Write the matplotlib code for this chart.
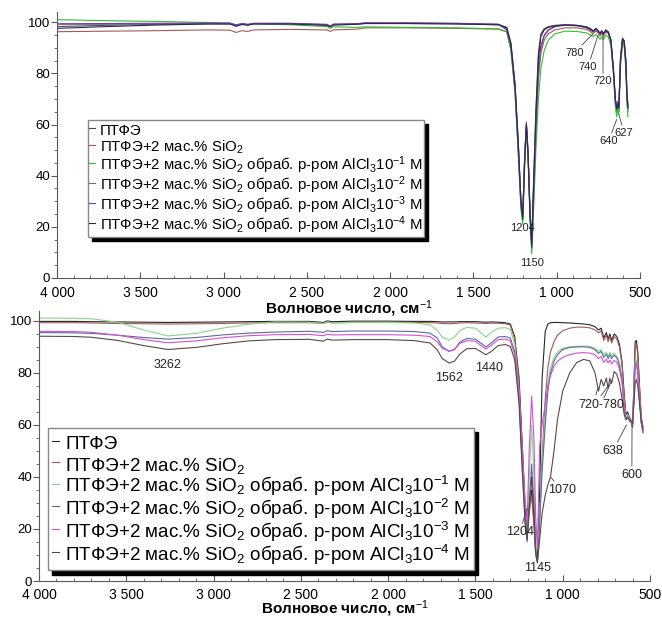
import matplotlib
matplotlib.use('Agg')
import matplotlib.pyplot as plt
from matplotlib.ticker import MultipleLocator

plt.rcParams['font.family'] = ['Liberation Sans', 'DejaVu Sans']
plt.rcParams['mathtext.fontset'] = 'custom'
plt.rcParams['mathtext.rm'] = 'Liberation Sans'
plt.rcParams['mathtext.it'] = 'Liberation Sans:italic'
plt.rcParams['mathtext.bf'] = 'Liberation Sans:bold'
plt.rcParams['mathtext.default'] = 'rm'

# ---- upper panel: transmittance, % ----
top_wn = [4000, 3700, 3400, 3100, 2960, 2925, 2890, 2855, 2820, 2600,
          2380, 2360, 2340, 2200, 2150, 1900, 1600, 1350, 1300, 1275,
          1250, 1230, 1215, 1204, 1192, 1182, 1172, 1160, 1150, 1138,
          1125, 1110, 1095, 1075, 1050, 1010, 950, 880, 820, 795,
          780, 765, 752, 740, 730, 720, 705, 690, 675, 660,
          648, 640, 633, 627, 617, 605, 595, 585, 578, 572]

top_ptfe = [98.3, 98.8, 99.2, 99.4, 99.4, 98.6, 99.3, 99.0, 99.5, 99.5,
            99.0, 98.5, 99.1, 99.4, 99.6, 99.6, 99.5, 99.2, 98.0, 92.0,
            76, 52, 31, 25, 48, 60, 48, 26, 14, 40,
            66, 88, 95.5, 97.5, 98.3, 98.8, 99.0, 98.8, 98.2, 97.4,
            96.6, 97.6, 96.8, 95.6, 96.6, 95.5, 97.0, 96.2, 93.2, 82,
            70, 66, 68.5, 67, 86, 93.8, 92.8, 85, 71, 67]
top_sio2 = [96.3, 96.5, 96.7, 97.0, 96.9, 96.0, 96.7, 96.4, 97.0, 97.2,
            97.0, 96.4, 97.0, 97.3, 97.8, 97.8, 97.6, 97.3, 96.2, 89.5,
            73, 49, 28, 23, 46, 59, 48, 24, 11.5, 32,
            56, 78, 88, 93, 95.5, 97.0, 97.8, 97.8, 97.2, 96.2,
            95.6, 96.6, 95.8, 94.6, 95.6, 94.5, 96.2, 95.4, 92.4, 81,
            68.5, 65, 67, 65, 84, 92.5, 91.5, 83, 69, 65]
top_al1 = [101.0, 100.6, 100.3, 99.9, 99.6, 99.0, 99.4, 99.1, 99.4, 99.0,
           98.3, 97.6, 98.2, 98.0, 98.2, 98.0, 97.8, 97.4, 96.3, 89,
           72, 48, 27, 21, 44, 58, 47, 22, 9.5, 28,
           50, 70, 82, 89, 93, 95.5, 96.5, 96.4, 95.8, 95.0,
           94.4, 95.2, 94.4, 93.3, 94.3, 93.2, 94.9, 94.2, 91, 80,
           67, 63, 66, 64, 83, 91.5, 90.5, 82, 68, 63]
top_al2 = [99.2, 99.2, 99.3, 99.5, 99.5, 98.8, 99.3, 99.0, 99.4, 99.4,
           98.9, 98.3, 99.0, 99.2, 99.5, 99.5, 99.4, 99.0, 97.6, 90.5,
           73, 48, 29, 24, 47, 60, 49, 24, 13, 34,
           58, 80, 90, 94.5, 96.8, 98.2, 98.8, 98.6, 97.8, 96.8,
           96.2, 97.2, 96.4, 95.2, 96.2, 95.1, 96.5, 95.8, 92.8, 81,
           69, 66, 68, 66, 85, 93, 92, 84, 70, 66]
top_al3 = [99.4, 99.5, 99.6, 99.7, 99.7, 98.9, 99.5, 99.2, 99.6, 99.6,
           99.2, 98.5, 99.3, 99.4, 99.8, 99.8, 99.6, 99.2, 97.0, 91,
           75, 52, 30, 24, 48, 61, 50, 25, 14, 35,
           60, 82, 91, 95, 97, 98.5, 99.0, 98.8, 98.0, 97.0,
           96.4, 97.4, 96.6, 95.4, 96.4, 95.3, 96.8, 96.0, 93, 82,
           70, 67, 69, 67, 86, 93.5, 92.5, 85, 72, 68]
top_al4 = [97.6, 98.3, 98.9, 99.3, 99.3, 98.4, 99.1, 98.8, 99.3, 99.3,
           98.8, 98.2, 98.9, 99.2, 99.5, 99.5, 99.3, 99.0, 97.8, 91.5,
           75, 51, 30, 23, 47, 60, 48, 25, 12, 38,
           64, 86, 94.5, 97, 98, 98.6, 98.9, 98.7, 98.1, 97.2,
           96.5, 97.5, 96.7, 95.6, 96.6, 95.6, 96.9, 96.1, 93.1, 82,
           70, 66, 68, 66.5, 85.5, 93.6, 92.6, 84.5, 70.5, 66.5]

# ---- lower panel ----
bot_wn = [4000, 3800, 3700, 3550, 3400, 3262, 3100, 2950, 2800, 2650,
          2450, 2370, 2350, 2320, 2200, 2000, 1850, 1760, 1720, 1690,
          1650, 1620, 1590, 1550, 1500, 1470, 1440, 1410, 1370, 1330,
          1300, 1275, 1250, 1230, 1215, 1204, 1192, 1178, 1165, 1155,
          1145, 1132, 1118, 1100, 1085, 1070, 1050, 1030, 1000, 960,
          920, 880, 845, 815, 795, 780, 765, 750, 740, 730,
          720, 705, 690, 675, 660, 648, 638, 628, 618, 608,
          600, 592, 585, 578, 570, 560, 550, 540]

bot_ptfe = [99.8, 99.8, 99.7, 99.6, 99.5, 99.4, 99.5, 99.6, 99.7, 99.8,
            99.8, 99.4, 100.0, 99.7, 99.9, 99.9, 99.8, 99.8, 99.7, 99.6,
            99.6, 99.6, 99.7, 99.7, 99.7, 99.6, 99.5, 99.6, 99.5, 99.3,
            98.8, 94, 78, 50, 28, 18, 28, 35, 24, 12,
            8, 35, 78, 96, 98.8, 99.3, 99.4, 99.4, 99.3, 99.2,
            99.0, 98.8, 98.5, 97.8, 96.5, 97.2, 93.5, 95.5, 93, 95,
            92.5, 95, 94, 91, 84, 72, 64, 65, 63, 62,
            60, 76, 92, 92.5, 88, 75, 63, 59]
bot_sio2 = [99.3, 99.3, 99.2, 99.0, 98.9, 98.8, 98.9, 99.0, 99.2, 99.3,
            99.3, 99.0, 99.5, 99.2, 99.4, 99.4, 99.4, 99.3, 99.2, 99.0,
            98.9, 99.0, 99.2, 99.3, 99.2, 99.1, 99.0, 99.1, 99.1, 98.9,
            98.3, 93, 76, 47, 25, 16, 26, 33, 21, 10,
            7, 24, 48, 70, 82, 88, 92, 94.5, 96.2, 97.2,
            97.6, 97.6, 97.3, 96.6, 95.4, 96.2, 92.5, 94.5, 92, 94,
            91.5, 94, 93, 90, 83, 71, 63, 64, 62, 61,
            59, 74, 90, 91, 87, 74, 62, 58]
bot_al1 = [101.1, 101.0, 100.8, 99.5, 96.5, 94.2, 95.2, 97.2, 98.7, 99.6,
           99.5, 99.0, 99.6, 99.3, 99.4, 99.4, 99.2, 98.5, 96.5, 93.8,
           92.6, 93.8, 96.2, 97.5, 97.2, 95.5, 93.8, 95.5, 97.2, 97.4,
           96.8, 91, 72, 44, 24, 16, 40, 60, 40, 15,
           9, 25, 45, 64, 76, 82, 86, 88, 89.5, 90,
           90.2, 90.3, 90.2, 89.5, 88.3, 89, 87, 88, 86.5, 88,
           86.5, 87.5, 86.5, 84, 78, 68, 63, 64, 62.5, 62,
           60.5, 72, 84, 85, 81, 71, 62, 58]
bot_al2 = [95.5, 95.4, 95.2, 94.5, 93.6, 93.0, 93.6, 94.6, 95.3, 95.7,
           96.0, 95.6, 96.2, 95.9, 96.1, 96.1, 95.9, 95.3, 93.5, 90.0,
           88.3, 89.0, 91.8, 93.2, 93.0, 91.5, 90.0, 91.5, 93.8, 94.0,
           93.4, 88, 70, 42, 22, 15, 30, 45, 30, 12,
           8, 22, 42, 60, 73, 80, 84.5, 87, 89, 89.8,
           90.0, 90.0, 89.8, 89, 87.5, 88.3, 86, 87.2, 85.5, 87,
           85.5, 86.8, 85.8, 83, 77, 67, 62, 63, 61.5, 61,
           59.5, 70, 83, 84, 80, 70, 61, 57]
bot_al3 = [96.0, 95.9, 95.6, 94.5, 92.8, 91.6, 92.3, 93.5, 94.3, 94.7,
           94.8, 94.3, 94.9, 94.6, 94.7, 94.7, 94.5, 94.0, 92.0, 89.5,
           88.3, 89.0, 91.3, 92.4, 92.2, 90.6, 89.2, 90.6, 92.8, 93.0,
           92.4, 87, 72, 50, 30, 22, 50, 71, 55, 25,
           12, 52, 60, 68, 75, 79, 82.5, 84.5, 86, 87,
           87.6, 87.8, 87.6, 87, 85.5, 86.3, 84, 85.3, 83.8, 85,
           83.5, 84.8, 84, 81.5, 76, 67, 62, 63, 61.5, 61,
           60, 70, 82, 83.5, 80, 70, 61, 57]
bot_al4 = [94.1, 94.0, 93.7, 92.5, 90.5, 89.0, 89.8, 91.2, 92.3, 92.8,
           92.9, 92.2, 93.0, 92.6, 92.8, 92.8, 92.4, 91.5, 89.0, 85.5,
           83.8, 84.5, 87.2, 89.3, 89.4, 88.2, 87.0, 88.2, 90.5, 90.9,
           90.2, 85, 68, 40, 22, 16, 28, 40, 26, 11,
           7, 16, 26, 33, 37, 40, 50, 62, 73, 80,
           84, 85.2, 84.6, 80, 73, 77.5, 75, 78, 74, 78,
           76, 80.5, 79.5, 76, 70, 64, 62, 63, 62, 61.5,
           60.5, 68, 76, 77.5, 75, 68, 61, 58]

labels = ['ПТФЭ',
          'ПТФЭ+2 мас.% SiO$_2$',
          'ПТФЭ+2 мас.% SiO$_2$ обраб. р-ром AlCl$_3$10$^{-1}$ M',
          'ПТФЭ+2 мас.% SiO$_2$ обраб. р-ром AlCl$_3$10$^{-2}$ M',
          'ПТФЭ+2 мас.% SiO$_2$ обраб. р-ром AlCl$_3$10$^{-3}$ M',
          'ПТФЭ+2 мас.% SiO$_2$ обраб. р-ром AlCl$_3$10$^{-4}$ M']

top_colors = ['#4a4a4a', '#a85858', '#2ec02e', '#6a6a8a', '#7a3aaa', '#2a2a50']
bot_colors = ['#262626', '#a05a5a', '#86d886', '#5a6aa0', '#d050d0', '#5a4848']

xticks = [4000, 3500, 3000, 2500, 2000, 1500, 1000, 500]
xtick_labels = ['4 000', '3 500', '3 000', '2 500', '2 000', '1 500', '1 000', '500']
yticks = [0, 20, 40, 60, 80, 100]

# band labels: text, text position, leader targets
top_notes = [('1204', 1204, 19.5, []),
             ('1150', 1150, 6, []),
             ('780', 895, 88, [(782, 95.5)]),
             ('740', 812, 82.5, [(752, 95)]),
             ('720', 722, 77, [(722, 95)]),
             ('640', 688, 53.6, [(640, 62)]),
             ('627', 595, 56.7, [(627, 64)])]
bot_notes = [('3262', 3262, 83, []),
             ('1562', 1650, 78, []),
             ('1440', 1420, 82, []),
             ('1070', 1005, 35, [(1070, 40)]),
             ('1204', 1246, 18.8, [(1204, 28)]),
             ('1145', 1143, 5, [(1145, 12)]),
             ('638', 713, 50, [(635, 60)]),
             ('600', 604, 40.8, [(603, 60)])]
band_group = ('720-780', 781, 67.7, [(810, 71.5), (781, 71.2), (764, 70.4)],
              [(800, 74), (740, 75), (720, 77)])

fig = plt.figure(figsize=(6.62, 6.19), dpi=100)
ax1 = fig.add_axes([57 / 662, 1 - 278 / 619, 583 / 662, 266 / 619])
ax2 = fig.add_axes([39 / 662, 1 - 581 / 619, 611 / 662, 270 / 619])
ax2.patch.set_visible(False)


def style_axes(ax, ymax, xpad, lpad):
    ax.set_xlim(4000, 500)
    ax.set_ylim(0, ymax)
    for s in ('top', 'right'):
        ax.spines[s].set_visible(False)
    for s in ('left', 'bottom'):
        ax.spines[s].set_color('#5a5a5a')
        ax.spines[s].set_linewidth(0.8)
    ax.set_xticks(xticks)
    ax.set_xticklabels(xtick_labels, fontsize=10)
    ax.xaxis.set_minor_locator(MultipleLocator(100))
    ax.set_yticks(yticks)
    ax.set_yticklabels([str(v) for v in yticks], fontsize=9.5)
    ax.yaxis.set_minor_locator(MultipleLocator(5))
    ax.tick_params(axis='x', which='major', direction='in', length=4,
                   pad=xpad, color='#5a5a5a')
    ax.tick_params(axis='x', which='minor', direction='in', length=2.5,
                   color='#5a5a5a')
    ax.tick_params(axis='y', which='major', direction='out', length=4, pad=1,
                   color='#5a5a5a')
    ax.tick_params(axis='y', which='minor', direction='out', length=2,
                   color='#5a5a5a')
    ax.set_xlabel('Волновое число, см$^{-1}$', fontsize=11,
                  fontweight='bold', labelpad=lpad)


def add_legend(ax, anchor, fs, spacing, pad):
    ax.legend(loc='upper left', bbox_to_anchor=anchor, borderaxespad=0,
              fontsize=fs, handlelength=0.4, handleheight=1.45,
              handletextpad=0.3, labelspacing=spacing, borderpad=pad,
              fancybox=False, edgecolor='#888888', framealpha=1,
              shadow={'ox': 3, 'oy': -3, 'color': 'black', 'alpha': 1})


top_series = [top_ptfe, top_sio2, top_al1, top_al2, top_al3, top_al4]
for vals, col, lab in zip(top_series, top_colors, labels):
    ax1.plot(top_wn, vals, color=col, lw=0.8, label=lab)
style_axes(ax1, 104, 5.5, -1)
add_legend(ax1, (0.053, 0.594), 10.8, -0.11, 0.1)

bot_series = [bot_ptfe, bot_sio2, bot_al1, bot_al2, bot_al3, bot_al4]
for vals, col, lab in zip(bot_series, bot_colors, labels):
    ax2.plot(bot_wn, vals, color=col, lw=0.8, label=lab)
style_axes(ax2, 103.8, 5, -2.5)
add_legend(ax2, (0.015, 0.566), 13.6, -0.07, 0.2)

leader = dict(arrowstyle='-', lw=0.6, color='#444444', shrinkA=0, shrinkB=0)


def add_notes(ax, notes, fs):
    for text, tx, ty, targets in notes:
        if not targets:
            ax.text(tx, ty, text, fontsize=fs, ha='center', va='center',
                    color='#222222')
        for xy in targets:
            ax.annotate(text, xy=xy, xytext=(tx, ty), fontsize=fs,
                        ha='center', va='center', color='#222222',
                        arrowprops=leader)


add_notes(ax1, top_notes, 8)
add_notes(ax2, bot_notes, 9)

text, tx, ty, starts, ends = band_group
ax2.text(tx, ty, text, fontsize=9, ha='center', va='center', color='#222222')
for p0, p1 in zip(starts, ends):
    ax2.annotate('', xy=p1, xytext=p0, arrowprops=leader)

fig.savefig('out.png', dpi=100)
